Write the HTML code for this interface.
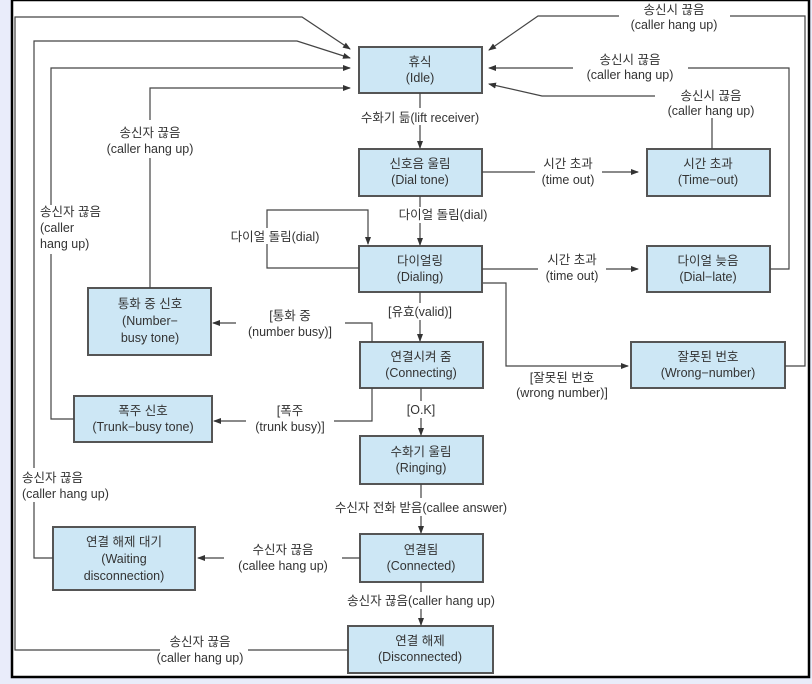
<!DOCTYPE html>
<html><head><meta charset="utf-8"><style>
html,body{margin:0;padding:0;background:#e9ecfa;}
svg{display:block;}
text{font-family:"Liberation Sans","Noto Sans CJK KR",sans-serif;font-size:12.5px;fill:#333;text-anchor:middle;}
.b{fill:#cde7f5;stroke:#555;stroke-width:2;}
.l{fill:none;stroke:#444;stroke-width:1.2;}
</style></head><body>
<svg width="812" height="684" viewBox="0 0 812 684">
<defs><marker id="a" markerWidth="8" markerHeight="6" refX="7" refY="3" orient="auto" markerUnits="userSpaceOnUse"><path d="M0,0 L8,3 L0,6 z" fill="#333"/></marker></defs>
<rect x="12" y="0" width="797" height="677" fill="#fff" stroke="#000" stroke-width="2.5"/>
<!-- boxes -->
<rect class="b" x="359" y="47" width="123" height="46"/>
<text x="420" y="66">휴식</text><text x="420" y="82">(Idle)</text>
<rect class="b" x="359" y="149" width="123" height="47"/>
<text x="420" y="168">신호음 울림</text><text x="420" y="184">(Dial tone)</text>
<rect class="b" x="647" y="149" width="123" height="47"/>
<text x="708" y="168">시간 초과</text><text x="708" y="184">(Time−out)</text>
<rect class="b" x="359" y="246" width="123" height="46"/>
<text x="420" y="265">다이얼링</text><text x="420" y="281">(Dialing)</text>
<rect class="b" x="647" y="246" width="123" height="46"/>
<text x="708" y="265">다이얼 늦음</text><text x="708" y="281">(Dial−late)</text>
<rect class="b" x="88" y="288" width="123" height="67"/>
<text x="150" y="308">통화 중 신호</text><text x="150" y="325">(Number−</text><text x="150" y="342">busy tone)</text>
<rect class="b" x="360" y="342" width="123" height="46"/>
<text x="421" y="361">연결시켜 줌</text><text x="421" y="377">(Connecting)</text>
<rect class="b" x="631" y="342" width="154" height="46"/>
<text x="708" y="361">잘못된 번호</text><text x="708" y="377">(Wrong−number)</text>
<rect class="b" x="74" y="396" width="138" height="46"/>
<text x="143" y="415">폭주 신호</text><text x="143" y="431">(Trunk−busy tone)</text>
<rect class="b" x="360" y="436" width="123" height="48"/>
<text x="421" y="456">수화기 울림</text><text x="421" y="472">(Ringing)</text>
<rect class="b" x="53" y="527" width="142" height="63"/>
<text x="124" y="546">연결 해제 대기</text><text x="124" y="563">(Waiting</text><text x="124" y="580">disconnection)</text>
<rect class="b" x="360" y="534" width="123" height="48"/>
<text x="421" y="554">연결됨</text><text x="421" y="570">(Connected)</text>
<rect class="b" x="348" y="626" width="145" height="47"/>
<text x="420" y="645">연결 해제</text><text x="420" y="661">(Disconnected)</text>

<!-- vertical main -->
<path class="l" d="M420,93 V108 M420,125 V148" marker-end="url(#a)"/>
<text x="420" y="122">수화기 듦(lift receiver)</text>
<path class="l" d="M420,196 V207 M420,223 V245" marker-end="url(#a)"/>
<text x="443" y="219">다이얼 돌림(dial)</text>
<path class="l" d="M420,292 V303 M420,320 V341" marker-end="url(#a)"/>
<text x="420" y="316">[유효(valid)]</text>
<path class="l" d="M421,388 V401 M421,418 V435" marker-end="url(#a)"/>
<text x="421" y="414">[O.K]</text>
<path class="l" d="M421,484 V498 M421,516 V533" marker-end="url(#a)"/>
<text x="421" y="512">수신자 전화 받음(callee answer)</text>
<path class="l" d="M421,582 V592 M421,609 V625" marker-end="url(#a)"/>
<text x="421" y="605">송신자 끊음(caller hang up)</text>

<!-- time outs -->
<path class="l" d="M482,172 H535 M602,172 H638" marker-end="url(#a)"/>
<text x="568" y="168">시간 초과</text><text x="568" y="184">(time out)</text>
<path class="l" d="M482,269 H538 M606,269 H638" marker-end="url(#a)"/>
<text x="572" y="264">시간 초과</text><text x="572" y="280">(time out)</text>

<!-- dial self loop -->
<path class="l" d="M359,268 H267 V210 H368 V244" marker-end="url(#a)"/>
<rect x="210" y="228" width="130" height="16" fill="#fff"/>
<text x="275" y="241">다이얼 돌림(dial)</text>

<!-- wrong number -->
<path class="l" d="M483,283 H506 V366 H628" marker-end="url(#a)"/>
<text x="562" y="382">[잘못된 번호</text><text x="562" y="397">(wrong number)]</text>

<!-- number busy -->
<path class="l" d="M372,342 V323 H345 M236,323 H213" marker-end="url(#a)"/>
<text x="290" y="320">[통화 중</text><text x="290" y="336">(number busy)]</text>
<!-- trunk busy -->
<path class="l" d="M372,388 V421 H334 M246,421 H214" marker-end="url(#a)"/>
<text x="290" y="415">[폭주</text><text x="290" y="431">(trunk busy)]</text>
<!-- callee hang up -->
<path class="l" d="M360,558 H342 M224,558 H198" marker-end="url(#a)"/>
<text x="283" y="554">수신자 끊음</text><text x="283" y="570">(callee hang up)</text>

<!-- left returns -->
<path class="l" d="M348,650 H248 M160,650 H15 V17 H302 L350,49" marker-end="url(#a)"/>
<text x="200" y="646">송신자 끊음</text><text x="200" y="662">(caller hang up)</text>
<path class="l" d="M53,558 H34 V502 M34,468 V41 H297 L350,58" marker-end="url(#a)"/>
<text x="65" y="482" style="text-anchor:start" transform="translate(-43,0)">송신자 끊음</text><text x="22" y="498" style="text-anchor:start">(caller hang up)</text>
<path class="l" d="M74,419 H51 V254 M51,205 V68 H350" marker-end="url(#a)"/>
<text x="40" y="216" style="text-anchor:start">송신자 끊음</text><text x="40" y="232" style="text-anchor:start">(caller</text><text x="40" y="248" style="text-anchor:start">hang up)</text>
<path class="l" d="M150,288 V158 M150,120 V88 H350" marker-end="url(#a)"/>
<text x="150" y="137">송신자 끊음</text><text x="150" y="153">(caller hang up)</text>

<!-- right returns -->
<path class="l" d="M785,366 H805 V16 H730 M619,16 H538 L489,50" marker-end="url(#a)"/>
<text x="674" y="14">송신시 끊음</text><text x="674" y="29">(caller hang up)</text>
<path class="l" d="M770,269 H789 V68 H688 M573,68 H489" marker-end="url(#a)"/>
<text x="630" y="64">송신시 끊음</text><text x="630" y="79">(caller hang up)</text>
<path class="l" d="M712,149 V118 M655,96 H542 L489,84" marker-end="url(#a)"/>
<text x="711" y="100">송신시 끊음</text><text x="711" y="115">(caller hang up)</text>
</svg>
</body></html>
